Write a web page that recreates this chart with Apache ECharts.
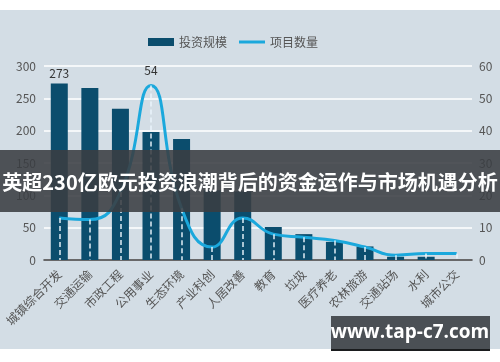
<!DOCTYPE html>
<html>
<head>
<meta charset="utf-8">
<script src="https://cdn.jsdelivr.net/npm/echarts@6/dist/echarts.min.js"></script>
<style>
  html, body { margin: 0; padding: 0; background: #ffffff; }
  #wrap { position: relative; width: 500px; height: 362px;
    background: linear-gradient(to bottom, #ffffff 0px, #ffffff 10px, #d3dde5 10px, #d3dde5 349px, #ffffff 349px); }
  #chart { width: 500px; height: 362px; }
</style>
</head>
<body>
<div id="wrap"><div id="chart"></div></div>
<script>
const categories = ['城镇综合开发', '交通运输', '市政工程', '公用事业', '生态环境', '产业科创', '人居改善', '教育', '垃圾', '医疗养老', '农林旅游', '交通站场', '水利', '城市公交'];
const investment = [273, 266, 234, 198, 187, 108, 106, 51, 40, 28, 21, 5, 5, 0];
const projectCount = [13, 12.5, 21, 54, 16, 4, 13, 8, 7, 6, 4, 1.5, 2, 2];
const leftTicks = { min: 0, max: 300, interval: 50 };
const rightTicks = { min: 0, max: 60, interval: 10 };
const titleText = '英超230亿欧元投资浪潮背后的资金运作与市场机遇分析';
const siteText = 'www.tap-c7.com';

const maxInv = Math.max(...investment);
const maxCnt = Math.max(...projectCount);

const chart = echarts.init(document.getElementById('chart'), null, { renderer: 'canvas' });
const font = '"Noto Sans CJK SC", "Noto Sans", sans-serif';

chart.setOption({
  backgroundColor: 'transparent',
  animation: false,
  textStyle: { fontFamily: font },
  legend: {
    left: 143, top: 31,
    itemWidth: 26, itemHeight: 8, itemGap: 12,
    textStyle: { color: '#555', fontSize: 12, fontFamily: font },
    data: [
      { name: '投资规模', icon: 'rect' },
      { name: '项目数量', icon: 'path://M0,0 M0,2.5 L26,2.5 L26,5.5 L0,5.5 Z M26,8' }
    ]
  },
  grid: { left: 44, right: 28, top: 66, bottom: 102, containLabel: false },
  xAxis: {
    type: 'category',
    data: categories,
    boundaryGap: true,
    axisLine: { lineStyle: { color: '#3a3a3a', width: 1.5 } },
    axisTick: { show: false },
    axisLabel: { interval: 0, rotate: 45, color: '#555', fontSize: 12, margin: 12, fontFamily: font }
  },
  yAxis: [
    {
      type: 'value', min: leftTicks.min, max: leftTicks.max, interval: leftTicks.interval,
      axisLine: { show: false }, axisTick: { show: false },
      axisLabel: { color: '#555', fontSize: 12, margin: 8 },
      splitLine: { lineStyle: { color: '#ffffff', width: 1.5 } }
    },
    {
      type: 'value', min: rightTicks.min, max: rightTicks.max, interval: rightTicks.interval,
      axisLine: { show: false }, axisTick: { show: false },
      axisLabel: { color: '#555', fontSize: 12, margin: 7 },
      splitLine: { show: false }
    }
  ],
  series: [
    {
      name: '投资规模', type: 'bar', yAxisIndex: 0,
      data: investment,
      barWidth: 17,
      itemStyle: { color: '#0b4d6d' },
      label: {
        show: true, position: 'top', distance: 4, color: '#333', fontSize: 12,
        formatter: p => (p.value === maxInv ? String(p.value) : '')
      },
      z: 2
    },
    {
      name: '项目数量', type: 'line', yAxisIndex: 1,
      data: projectCount,
      smooth: true,
      symbol: 'circle',
      symbolSize: 1,
      showSymbol: true,
      lineStyle: { color: '#1ba8dc', width: 3 },
      itemStyle: { color: '#1ba8dc' },
      label: {
        show: true, position: 'top', distance: 8, color: '#333', fontSize: 12,
        formatter: p => (p.value === maxCnt ? String(p.value) : '')
      },
      markLine: {
        silent: true,
        symbol: ['none', 'none'],
        label: { show: false },
        lineStyle: { color: 'rgba(235,245,252,0.95)', type: [5, 3], width: 1.5 },
        data: projectCount.map((v, i) => [{ coord: [i, v] }, { coord: [i, 0] }])
      },
      z: 3
    }
  ],
  graphic: [
    {
      type: 'rect', z: 100, silent: true,
      shape: { x: 0, y: 150, width: 500, height: 62 },
      style: { fill: 'rgba(58,62,66,0.88)' }
    },
    {
      type: 'text', z: 101, silent: true,
      x: 250, y: 182,
      style: {
        text: titleText, fill: '#ffffff',
        font: 'bold 20px "Noto Sans CJK SC", sans-serif',
        align: 'center', verticalAlign: 'middle'
      }
    },
    {
      type: 'rect', z: 100, silent: true,
      shape: { x: 331, y: 318, width: 159, height: 33 },
      style: { fill: '#1a1c1e' }
    },
    {
      type: 'rect', z: 101, silent: true,
      shape: { x: 331, y: 316, width: 159, height: 33 },
      style: { fill: '#4b5055' }
    },
    {
      type: 'text', z: 102, silent: true,
      x: 410, y: 333,
      style: {
        text: siteText, fill: '#ffffff',
        font: 'bold 19px "Open Sans", "DejaVu Sans", sans-serif',
        align: 'center', verticalAlign: 'middle'
      }
    }
  ]
});
</script>
</body>
</html>
